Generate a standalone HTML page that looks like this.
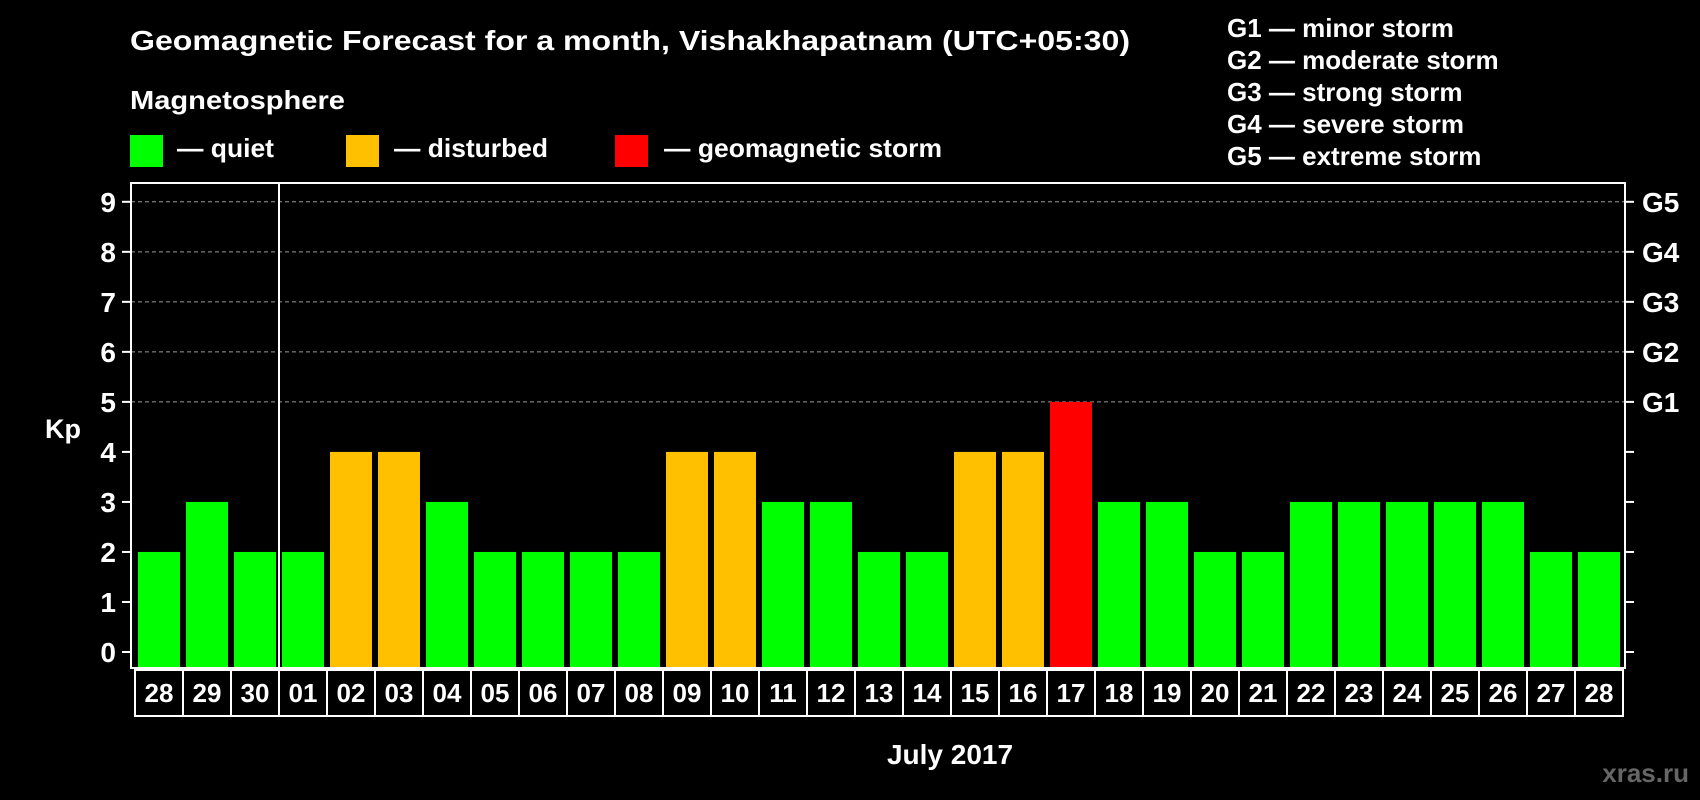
<!DOCTYPE html>
<html><head><meta charset="utf-8"><style>
html,body{margin:0;padding:0;background:#000;}
svg{display:block;font-family:"Liberation Sans",Arial,sans-serif;font-weight:bold;}
</style></head><body>
<svg id="chart" width="1700" height="800" viewBox="0 0 1700 800">
<text x="130" y="50" fill="#fff" font-size="28" textLength="1000" lengthAdjust="spacingAndGlyphs">Geomagnetic Forecast for a month, Vishakhapatnam (UTC+05:30)</text>
<text x="130" y="109" fill="#fff" font-size="26" textLength="215" lengthAdjust="spacingAndGlyphs">Magnetosphere</text>
<g><rect x="130" y="135" width="33" height="32" fill="#00ff00"/><text x="177" y="157" fill="#fff" font-size="26" textLength="97" lengthAdjust="spacingAndGlyphs">— quiet</text></g>
<g><rect x="346" y="135" width="33" height="32" fill="#ffc000"/><text x="394" y="157" fill="#fff" font-size="26" textLength="154" lengthAdjust="spacingAndGlyphs">— disturbed</text></g>
<g><rect x="615" y="135" width="33" height="32" fill="#ff0000"/><text x="664" y="157" fill="#fff" font-size="26" textLength="278" lengthAdjust="spacingAndGlyphs">— geomagnetic storm</text></g>
<g fill="#fff" font-size="26">
<text x="1227" y="37">G1 — minor storm</text>
<text x="1227" y="69">G2 — moderate storm</text>
<text x="1227" y="101">G3 — strong storm</text>
<text x="1227" y="133">G4 — severe storm</text>
<text x="1227" y="165">G5 — extreme storm</text>
</g>
<text x="63" y="438" fill="#fff" font-size="27" text-anchor="middle">Kp</text>
<g id="plot"></g>
<text x="950" y="764" fill="#fff" font-size="28" text-anchor="middle">July 2017</text>
<text x="1689" y="782" fill="#666" font-size="26" text-anchor="end">xras.ru</text>
</svg>
<script>
const days = ["28","29","30","01","02","03","04","05","06","07","08","09","10","11","12","13","14","15","16","17","18","19","20","21","22","23","24","25","26","27","28"];
const kpValues = [2,3,2,2,4,4,3,2,2,2,2,4,4,3,3,2,2,4,4,5,3,3,2,2,3,3,3,3,3,2,2];
const yTicks = [0,1,2,3,4,5,6,7,8,9];
const gLabels = ["G1","G2","G3","G4","G5"];
const ns="http://www.w3.org/2000/svg";
const L=131,R=1625,T=183,B=668,Y0=652,Y9=201.8;
const n=days.length, X0=135, slot=(1623-135)/n;
const y=v=>Y0+(Y9-Y0)*v/9;
const x=i=>X0+i*slot;
const g=document.getElementById('plot');
function mk(t,a){const e=document.createElementNS(ns,t);for(const k in a)e.setAttribute(k,a[k]);g.appendChild(e);return e;}
for(const v of yTicks){
 if(v>=5){const l=mk('line',{x1:L,x2:R,y1:y(v),y2:y(v),stroke:'#999','stroke-dasharray':'4,3','stroke-width':1});
 
 }
 const tl=mk('line',{x1:L-9,x2:L,y1:y(v),y2:y(v),stroke:'#fff','stroke-width':2});
 
 
 const tr=mk('line',{x1:R,x2:R+9,y1:y(v),y2:y(v),stroke:'#fff','stroke-width':2});
 
 
 const t=mk('text',{x:116,y:y(v)+10,fill:'#fff','font-size':28,'text-anchor':'end'});
 t.textContent=v;
 
 
 if(v>=5){const gt=mk('text',{x:1642,y:y(v)+10,fill:'#fff','font-size':28});
 gt.textContent=gLabels[v-5];
 
 }
}
kpValues.forEach((v,i)=>{
 const c=v>=5?'#ff0000':(v>=4?'#ffc000':'#00ff00');
 const r=mk('rect',{x:x(i)+3,y:y(v),width:slot-6,height:B-y(v),fill:c});
 
 
 const b=mk('rect',{x:x(i),y:B+2,width:slot,height:46,fill:'none',stroke:'#fff','stroke-width':2});
 
 
 const t=mk('text',{x:x(i)+slot/2,y:B+34,fill:'#fff','font-size':26,'text-anchor':'middle'});
 t.textContent=days[i];
 
 
});
const fr=mk('rect',{x:L,y:T,width:R-L,height:B-T,fill:'none',stroke:'#fff','stroke-width':2});


const dv=mk('line',{x1:x(3),x2:x(3),y1:T,y2:B,stroke:'#fff','stroke-width':2});


</script>
</body></html>
